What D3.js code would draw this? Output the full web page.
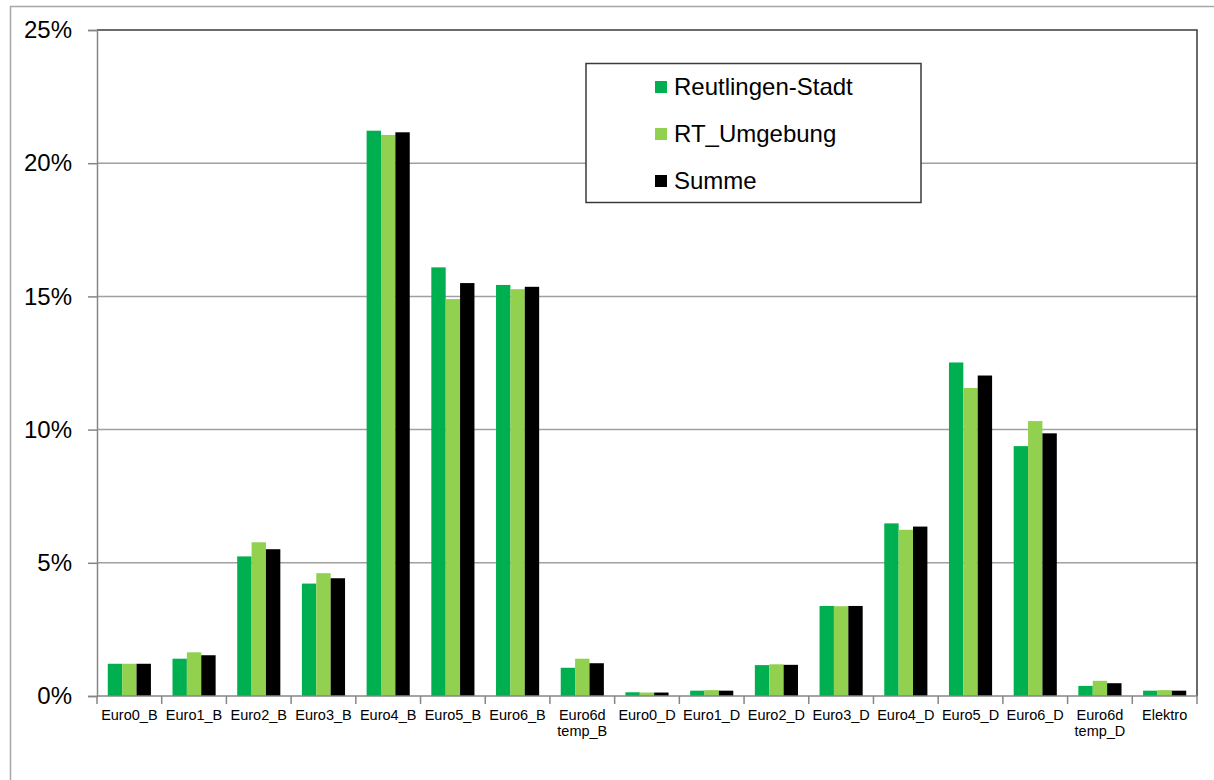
<!DOCTYPE html>
<html>
<head>
<meta charset="utf-8">
<script src="https://cdn.jsdelivr.net/npm/d3@7/dist/d3.min.js"></script>
<style>
  html, body { margin: 0; padding: 0; background: #fff; }
  svg { display: block; font-family: "Liberation Sans", Arial, sans-serif; }
</style>
</head>
<body>
<svg id="chart" width="1214" height="780"></svg>
<script>
// Vehicle share by emission class (percent)
const categories = ["Euro0_B", "Euro1_B", "Euro2_B", "Euro3_B", "Euro4_B", "Euro5_B", "Euro6_B",
  "Euro6d\ntemp_B", "Euro0_D", "Euro1_D", "Euro2_D", "Euro3_D", "Euro4_D", "Euro5_D", "Euro6_D",
  "Euro6d\ntemp_D", "Elektro"];
const seriesNames = ["Reutlingen-Stadt", "RT_Umgebung", "Summe"];
const reutlingenStadt = [1.21, 1.40, 5.24, 4.22, 21.22, 16.09, 15.43, 1.06, 0.14, 0.20, 1.16, 3.38, 6.48, 12.52, 9.38, 0.38, 0.20];
const rtUmgebung      = [1.21, 1.64, 5.77, 4.61, 21.06, 14.90, 15.27, 1.40, 0.13, 0.22, 1.19, 3.37, 6.24, 11.56, 10.32, 0.57, 0.22];
const summe           = [1.21, 1.53, 5.51, 4.42, 21.16, 15.50, 15.36, 1.23, 0.13, 0.20, 1.17, 3.38, 6.36, 12.03, 9.86, 0.48, 0.20];
const seriesColors = ["#00B050", "#92D050", "#000000"];
const yTicks = [0, 5, 10, 15, 20, 25];

const series = [reutlingenStadt, rtUmgebung, summe];

const svg = d3.select("#chart");
const plot = { left: 97, top: 30, right: 1197, bottom: 696 };

// Outer chart frame
svg.append("rect")
  .attr("x", 10.5).attr("y", 6.5)
  .attr("width", 1400).attr("height", 1000)
  .attr("fill", "#fff").attr("stroke", "#a6a6a6").attr("stroke-width", 1.5);

const x = d3.scaleBand().domain(categories).range([plot.left, plot.right]).padding(0);
const bw = x.bandwidth();
const gap = bw * 1.5 / 4.5;
const xs = d3.scaleBand().domain(d3.range(series.length)).range([gap / 2, bw - gap / 2]).padding(0);
const y = d3.scaleLinear().domain([0, 25]).range([plot.bottom, plot.top]);

// Horizontal gridlines
svg.append("g").selectAll("line")
  .data(yTicks.filter(t => t > 0 && t < 25))
  .join("line")
  .attr("x1", plot.left).attr("x2", plot.right)
  .attr("y1", d => y(d)).attr("y2", d => y(d))
  .attr("stroke", "#a0a0a0").attr("stroke-width", 1.5);

// Plot area top/right border
svg.append("path")
  .attr("d", `M${plot.left},${plot.top}H${plot.right}V${plot.bottom}`)
  .attr("fill", "none").attr("stroke", "#3a3a3a").attr("stroke-width", 1.5);

// Bars
const groups = svg.append("g").selectAll("g")
  .data(categories)
  .join("g")
  .attr("transform", d => `translate(${x(d)},0)`);

groups.selectAll("rect")
  .data((d, i) => series.map((s, k) => ({ k, v: s[i] })))
  .join("rect")
  .attr("x", d => xs(d.k))
  .attr("width", xs.bandwidth())
  .attr("y", d => y(d.v))
  .attr("height", d => y(0) - y(d.v))
  .attr("fill", d => seriesColors[d.k]);

// Y axis
const yAxis = d3.axisLeft(y)
  .tickValues(yTicks)
  .tickSize(9)
  .tickPadding(16)
  .tickFormat(d => d + "%");
const gy = svg.append("g").attr("transform", `translate(${plot.left},0)`).call(yAxis);
gy.select(".domain").attr("stroke", "#868686").attr("stroke-width", 1.5);
gy.selectAll(".tick line").attr("stroke", "#868686").attr("stroke-width", 1.5);
gy.selectAll(".tick text").attr("font-size", 24).attr("fill", "#000")
  .attr("font-family", "'Liberation Sans', Arial, sans-serif");

// X axis: tick marks at category boundaries
const gx = svg.append("g");
gx.append("line")
  .attr("x1", plot.left).attr("x2", plot.right)
  .attr("y1", plot.bottom).attr("y2", plot.bottom)
  .attr("stroke", "#868686").attr("stroke-width", 1.5);
gx.selectAll("line.tk")
  .data(categories.concat(["_end"]))
  .join("line").attr("class", "tk")
  .attr("x1", (d, i) => plot.left + i * bw).attr("x2", (d, i) => plot.left + i * bw)
  .attr("y1", plot.bottom).attr("y2", plot.bottom + 8)
  .attr("stroke", "#868686").attr("stroke-width", 1.5);

const labels = gx.selectAll("text.cat")
  .data(categories)
  .join("text").attr("class", "cat")
  .attr("x", d => x(d) + bw / 2)
  .attr("y", 720)
  .attr("text-anchor", "middle")
  .attr("font-size", 14.5)
  .attr("fill", "#000");
labels.selectAll("tspan")
  .data(d => d.split("\n"))
  .join("tspan")
  .attr("x", function () { return d3.select(this.parentNode).attr("x"); })
  .attr("dy", (d, i) => i === 0 ? 0 : 16)
  .text(d => d);

// Legend
const legend = svg.append("g");
legend.append("rect")
  .attr("x", 586).attr("y", 63.5).attr("width", 335).attr("height", 139)
  .attr("fill", "#fff").attr("stroke", "#3a3a3a").attr("stroke-width", 1.5);
const items = legend.selectAll("g.item")
  .data(seriesNames)
  .join("g").attr("class", "item")
  .attr("transform", (d, i) => `translate(655,${87 + i * 47})`);
items.append("rect")
  .attr("x", 0).attr("y", -6).attr("width", 12).attr("height", 12)
  .attr("fill", (d, i) => seriesColors[i]);
items.append("text")
  .attr("x", 19).attr("y", 0).attr("dy", "0.35em")
  .attr("font-size", 24).attr("fill", "#000")
  .text(d => d);
</script>
</body>
</html>
